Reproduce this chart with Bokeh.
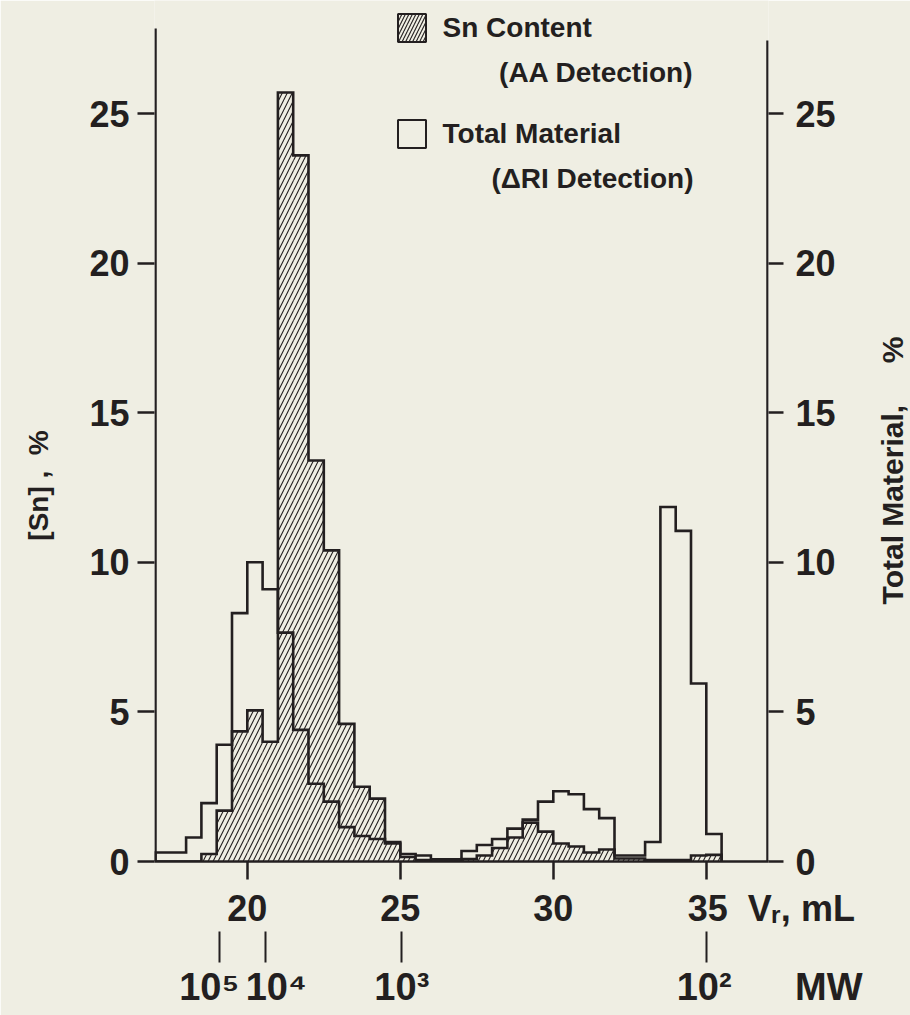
import numpy as np
from bokeh.plotting import figure
from bokeh.models import (Range1d, FixedTicker, LinearAxis, Label, Legend, LegendItem)
from bokeh.embed import file_html
from bokeh.resources import INLINE

# ---------------- data ----------------
vr_left = [17.0, 17.5, 18.0, 18.5, 19.0, 19.5, 20.0, 20.5, 21.0, 21.5, 22.0, 22.5,
           23.0, 23.5, 24.0, 24.5, 25.0, 25.5, 26.0, 26.5, 27.0, 27.5, 28.0, 28.5,
           29.0, 29.5, 30.0, 30.5, 31.0, 31.5, 32.0, 32.5, 33.0, 33.5, 34.0, 34.5, 35.0]
bin_width = 0.5
sn_content = [0.0, 0.0, 0.0, 0.25, 1.7, 4.35, 5.05, 4.0, 25.7, 23.6, 13.4, 10.4,
              4.6, 2.5, 2.1, 0.65, 0.15, 0.05, 0.0, 0.0, 0.08, 0.2, 0.45, 0.8,
              1.3, 1.0, 0.6, 0.5, 0.3, 0.4, 0.1, 0.1, 0.05, 0.05, 0.05, 0.2, 0.22]
total_material = [0.3, 0.3, 0.8, 1.95, 3.9, 8.3, 10.0, 9.1, 7.65, 4.4, 2.6, 2.0,
                  1.15, 0.85, 0.75, 0.6, 0.25, 0.2, 0.07, 0.07, 0.35, 0.55, 0.75, 1.1,
                  1.4, 2.0, 2.35, 2.25, 1.75, 1.45, 0.2, 0.2, 0.65, 11.85, 11.05, 5.95, 0.92]
vr_ticks = [20, 25, 30, 35]
pct_ticks = [0, 5, 10, 15, 20, 25]
mw_ticks = [19.1, 20.6, 25.05, 35.0]
mw_labels = ["10\u2075", "10\u2074", "10\u00b3", "10\u00b2"]

# ---------------- layout / style ----------------
FONT = "Liberation Sans"
BG = "#efeee3"
INK = "#231f20"
NB = "\u00a0"
W, H = 910, 1015
FL, FR, FT, FB = 154, 768, 0, 861          # frame edges in px
X0, X1 = 17.0, 37.0                          # axis positions (mL)
PXX = 30.6                                   # px per mL
PXY = 29.92                                  # px per %
pad = (FR - FL - (X1 - X0) * PXX) / 2 / PXX
XPX0 = FL + pad * PXX
YMAX = (FB - FT) / PXY


def dx(px):
    return X0 + (px - XPX0) / PXX


def dy(py):
    return (FB - py) / PXY


p = figure(width=W, height=H, x_range=Range1d(X0 - pad, X1 + pad),
           y_range=Range1d(0, YMAX), output_backend="svg", toolbar_location=None,
           min_border_left=FL, min_border_right=W - FR, min_border_top=FT,
           min_border_bottom=H - FB, background_fill_color=BG, border_fill_color=BG,
           outline_line_color=None)
p.grid.visible = False
p.extra_y_ranges = {"tm": Range1d(0, YMAX)}


def style_axis(ax, ticks, tick_out, size="36px"):
    ax.ticker = FixedTicker(ticks=ticks)
    ax.major_tick_out = tick_out
    ax.major_tick_in = 0
    ax.minor_tick_out = 0
    ax.minor_tick_in = 0
    ax.major_tick_line_width = 2.5
    ax.major_tick_line_color = INK
    ax.major_label_text_font = FONT
    ax.major_label_text_font_style = "bold"
    ax.major_label_text_font_size = size
    ax.major_label_text_color = INK


# x axis (retention volume) with the unit written after "35"
xax = p.xaxis[0]
style_axis(xax, vr_ticks, 18)
xax.axis_line_width = 2.5
xax.axis_line_color = INK
xax.major_label_standoff = 8
unit_tail = NB * 2 + "V\u1d63," + NB + "mL"
xax.major_label_overrides = {35: NB * 13 + "35" + unit_tail}

# left axis
yl = p.yaxis[0]
style_axis(yl, pct_ticks, 17)
yl.axis_line_color = None
yl.major_label_standoff = 8
yl.axis_label = "[Sn] ," + NB * 2 + "%" + NB * 14
yl.axis_label_text_font = FONT
yl.axis_label_text_font_style = "bold"
yl.axis_label_text_font_size = "28px"
yl.axis_label_text_color = INK
yl.axis_label_standoff = 32

# right axis
yr = LinearAxis(y_range_name="tm")
style_axis(yr, pct_ticks, 15)
yr.axis_line_color = None
yr.major_label_standoff = 12
p.add_layout(yr, "right")

# right-hand title, placed in the right panel so that it is not clipped
p.add_layout(Label(x=dx(892), y=dy(470), text="Total Material," + NB * 5 + "%",
                   text_font=FONT, text_font_style="bold", text_font_size="30px",
                   text_color=INK, text_align="center", text_baseline="middle",
                   angle=np.pi / 2), "right")

# molecular-weight scale
mw = LinearAxis()
mw.ticker = FixedTicker(ticks=mw_ticks)
mw.axis_line_color = None
mw.major_tick_out = 31
mw.major_tick_in = 0
mw.major_tick_line_width = 2
mw.major_tick_line_color = INK
mw.major_label_text_font = FONT
mw.major_label_text_font_style = "bold"
mw.major_label_text_font_size = "38px"
mw.major_label_text_color = INK
mw.major_label_standoff = 3
mw.major_label_overrides = {
    mw_ticks[0]: mw_labels[0] + NB * 2,
    mw_ticks[1]: NB * 2 + mw_labels[1],
    mw_ticks[2]: mw_labels[2],
    mw_ticks[3]: NB * 12 + mw_labels[3] + NB * 6 + "MW",
}
p.add_layout(mw, "below")

# vertical axis lines
p.segment(x0=[X0, X1], y0=[0, 0], x1=[X0, X1], y1=[dy(28), dy(40)],
          line_color=INK, line_width=2.5)

# ---------------- histograms ----------------
vr_right = [v + bin_width for v in vr_left]
p.quad(left=vr_left, right=vr_right, bottom=0, top=sn_content,
       fill_alpha=0, line_color=None, hatch_pattern="/", hatch_color=INK,
       hatch_scale=10, hatch_weight=1.1)


def outline(left, vals, w):
    xs, ys = [left[0]], [0.0]
    for l, v in zip(left, vals):
        xs += [l, l + w]
        ys += [v, v]
    xs.append(left[-1] + w)
    ys.append(0.0)
    return xs, ys


sx, sy = outline(vr_left, sn_content, bin_width)
p.line(sx, sy, line_color=INK, line_width=2.6, line_join="miter")
tx, ty = outline(vr_left, total_material, bin_width)
p.line(tx, ty, line_color=INK, line_width=2.6, line_join="miter")

# legend (hidden renderers provide the swatches)
leg_sn = p.quad(left=vr_left, right=vr_right, bottom=0, top=sn_content,
                fill_alpha=0, line_color=INK, line_width=2, hatch_pattern="/",
                hatch_color=INK, hatch_scale=7, hatch_weight=1.1, visible=False)
leg_tm = p.quad(left=vr_left, right=vr_right, bottom=0, top=total_material,
                fill_alpha=0, line_color=INK, line_width=2, visible=False)
legend = Legend(items=[LegendItem(label="Sn Content", renderers=[leg_sn]),
                       LegendItem(label="Total Material", renderers=[leg_tm])],
                location=(239.5, 710), glyph_width=35, glyph_height=35,
                label_standoff=14, spacing=71, padding=0, margin=0,
                border_line_color=None, background_fill_alpha=0,
                label_text_font=FONT, label_text_font_style="bold",
                label_text_font_size="28px", label_text_color=INK)
p.add_layout(legend, "center")


def lab(text, px, py, size, align="left"):
    p.add_layout(Label(x=dx(px), y=dy(py), text=text, text_font=FONT,
                       text_font_style="bold", text_font_size=size,
                       text_color=INK, text_align=align,
                       text_baseline="alphabetic"))


lab("(AA Detection)", 693, 72, "28px", align="right")
lab("(\u0394RI Detection)", 693, 178, "28px", align="right")

open("out.html", "w").write(file_html(p, INLINE))
